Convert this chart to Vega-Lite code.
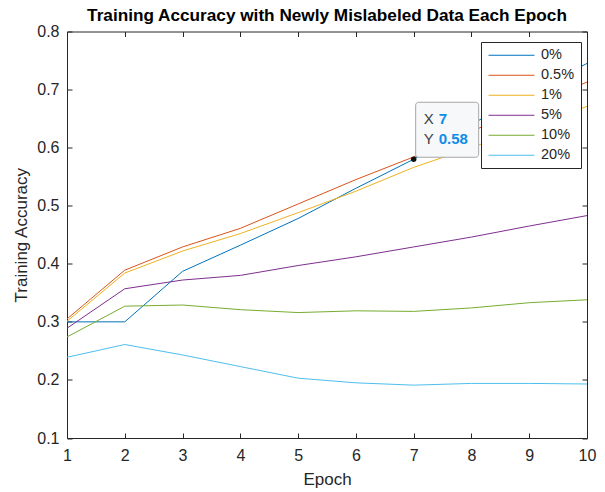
{
  "$schema": "https://vega.github.io/schema/vega-lite/v6.json",
  "width": 520,
  "height": 406.5,
  "autosize": "none",
  "padding": {"left": 67, "top": 31.5, "right": 18, "bottom": 54},
  "background": "white",
  "config": {
    "font": "Liberation Sans",
    "view": {"stroke": null}
  },
  "title": {
    "text": "Training Accuracy with Newly Mislabeled Data Each Epoch",
    "font": "Liberation Sans",
    "fontSize": 17.2,
    "fontWeight": "bold",
    "color": "black",
    "offset": -1,
    "anchor": "middle"
  },
  "datasets": {
    "acc": [
      {"series": "0%", "epoch": 1, "acc": 0.300}, {"series": "0%", "epoch": 2, "acc": 0.300}, {"series": "0%", "epoch": 3, "acc": 0.387}, {"series": "0%", "epoch": 4, "acc": 0.432}, {"series": "0%", "epoch": 5, "acc": 0.478}, {"series": "0%", "epoch": 6, "acc": 0.530}, {"series": "0%", "epoch": 7, "acc": 0.580}, {"series": "0%", "epoch": 8, "acc": 0.640}, {"series": "0%", "epoch": 9, "acc": 0.695}, {"series": "0%", "epoch": 10, "acc": 0.745},
      {"series": "0.5%", "epoch": 1, "acc": 0.305}, {"series": "0.5%", "epoch": 2, "acc": 0.389}, {"series": "0.5%", "epoch": 3, "acc": 0.429}, {"series": "0.5%", "epoch": 4, "acc": 0.461}, {"series": "0.5%", "epoch": 5, "acc": 0.503}, {"series": "0.5%", "epoch": 6, "acc": 0.545}, {"series": "0.5%", "epoch": 7, "acc": 0.584}, {"series": "0.5%", "epoch": 8, "acc": 0.628}, {"series": "0.5%", "epoch": 9, "acc": 0.670}, {"series": "0.5%", "epoch": 10, "acc": 0.713},
      {"series": "1%", "epoch": 1, "acc": 0.301}, {"series": "1%", "epoch": 2, "acc": 0.384}, {"series": "1%", "epoch": 3, "acc": 0.422}, {"series": "1%", "epoch": 4, "acc": 0.452}, {"series": "1%", "epoch": 5, "acc": 0.488}, {"series": "1%", "epoch": 6, "acc": 0.525}, {"series": "1%", "epoch": 7, "acc": 0.566}, {"series": "1%", "epoch": 8, "acc": 0.600}, {"series": "1%", "epoch": 9, "acc": 0.636}, {"series": "1%", "epoch": 10, "acc": 0.671},
      {"series": "5%", "epoch": 1, "acc": 0.289}, {"series": "5%", "epoch": 2, "acc": 0.357}, {"series": "5%", "epoch": 3, "acc": 0.372}, {"series": "5%", "epoch": 4, "acc": 0.380}, {"series": "5%", "epoch": 5, "acc": 0.397}, {"series": "5%", "epoch": 6, "acc": 0.412}, {"series": "5%", "epoch": 7, "acc": 0.429}, {"series": "5%", "epoch": 8, "acc": 0.446}, {"series": "5%", "epoch": 9, "acc": 0.465}, {"series": "5%", "epoch": 10, "acc": 0.483},
      {"series": "10%", "epoch": 1, "acc": 0.274}, {"series": "10%", "epoch": 2, "acc": 0.327}, {"series": "10%", "epoch": 3, "acc": 0.329}, {"series": "10%", "epoch": 4, "acc": 0.321}, {"series": "10%", "epoch": 5, "acc": 0.316}, {"series": "10%", "epoch": 6, "acc": 0.319}, {"series": "10%", "epoch": 7, "acc": 0.318}, {"series": "10%", "epoch": 8, "acc": 0.324}, {"series": "10%", "epoch": 9, "acc": 0.333}, {"series": "10%", "epoch": 10, "acc": 0.338},
      {"series": "20%", "epoch": 1, "acc": 0.239}, {"series": "20%", "epoch": 2, "acc": 0.261}, {"series": "20%", "epoch": 3, "acc": 0.243}, {"series": "20%", "epoch": 4, "acc": 0.223}, {"series": "20%", "epoch": 5, "acc": 0.203}, {"series": "20%", "epoch": 6, "acc": 0.195}, {"series": "20%", "epoch": 7, "acc": 0.191}, {"series": "20%", "epoch": 8, "acc": 0.194}, {"series": "20%", "epoch": 9, "acc": 0.194}, {"series": "20%", "epoch": 10, "acc": 0.193}
    ],
    "tip": [
      {"epoch": 7, "acc": 0.58, "xl": "X", "xv": "7", "yl": "Y", "yv": "0.58"}
    ]
  },
  "layer": [
    {
      "data": {"name": "acc"},
      "mark": {"type": "line", "strokeWidth": 1, "clip": true},
      "encoding": {
        "x": {
          "field": "epoch", "type": "quantitative",
          "scale": {"domain": [1, 10], "nice": false, "zero": false},
          "axis": {
            "orient": "bottom", "title": "Epoch",
            "values": [1, 2, 3, 4, 5, 6, 7, 8, 9, 10], "format": "d",
            "grid": false, "domainColor": "#262626", "domainWidth": 1,
            "tickColor": "#262626", "tickSize": -5, "tickWidth": 1,
            "labelFont": "Liberation Sans", "labelFontSize": 16, "labelColor": "#262626",
            "labelPadding": 14, "labelFlush": false,
            "titleFont": "Liberation Sans", "titleFontSize": 17, "titleFontWeight": "normal", "titleColor": "#262626",
            "titlePadding": 8
          }
        },
        "y": {
          "field": "acc", "type": "quantitative",
          "scale": {"domain": [0.1, 0.8], "nice": false, "zero": false},
          "axis": {
            "orient": "left", "title": "Training Accuracy",
            "values": [0.1, 0.2, 0.3, 0.4, 0.5, 0.6, 0.7, 0.8], "format": ".1f",
            "grid": false, "domainColor": "#262626", "domainWidth": 1,
            "tickColor": "#262626", "tickSize": -5, "tickWidth": 1,
            "labelFont": "Liberation Sans", "labelFontSize": 16, "labelColor": "#262626",
            "labelPadding": 13, "labelFlush": false,
            "titleFont": "Liberation Sans", "titleFontSize": 17, "titleFontWeight": "normal", "titleColor": "#262626",
            "titlePadding": 6
          }
        },
        "color": {
          "field": "series", "type": "nominal",
          "scale": {
            "domain": ["0%", "0.5%", "1%", "5%", "10%", "20%"],
            "range": ["#0072BD", "#D95319", "#EDB120", "#7E2F8E", "#77AC30", "#4DBEEE"]
          },
          "legend": {
            "title": null, "orient": "none", "legendX": 414, "legendY": 10.5,
            "direction": "vertical",
            "symbolType": "M-1,0H7", "symbolSize": 132, "symbolStrokeWidth": 1,
            "labelOffset": 39.5, "labelFont": "Liberation Sans", "labelFontSize": 14.5, "labelColor": "#262626",
            "rowPadding": 5, "padding": 6,
            "strokeColor": "#262626", "fillColor": "white", "cornerRadius": 0
          }
        }
      }
    },
    {
      "data": {"name": "acc"},
      "mark": {"type": "line", "opacity": 0},
      "encoding": {
        "x": {
          "field": "epoch", "type": "quantitative",
          "axis": {
            "orient": "top", "title": null, "labels": false,
            "values": [1, 2, 3, 4, 5, 6, 7, 8, 9, 10],
            "grid": false, "domainColor": "#262626", "domainWidth": 1,
            "tickColor": "#262626", "tickSize": -5, "tickWidth": 1
          }
        },
        "y": {
          "field": "acc", "type": "quantitative",
          "axis": {
            "orient": "right", "title": null, "labels": false,
            "values": [0.1, 0.2, 0.3, 0.4, 0.5, 0.6, 0.7, 0.8],
            "grid": false, "domainColor": "#262626", "domainWidth": 1,
            "tickColor": "#262626", "tickSize": -5, "tickWidth": 1
          }
        },
        "detail": {"field": "series"}
      }
    },
    {
      "data": {"name": "tip"},
      "mark": {"type": "rect", "fill": "#F7F8FA", "stroke": "#A6A6A6", "strokeWidth": 1, "cornerRadius": 3, "xOffset": 2, "x2Offset": 65, "yOffset": -57, "y2Offset": -2},
      "encoding": {
        "x": {"field": "epoch", "type": "quantitative", "axis": null},
        "x2": {"field": "epoch"},
        "y": {"field": "acc", "type": "quantitative", "axis": null},
        "y2": {"field": "acc"}
      }
    },
    {
      "data": {"name": "tip"},
      "mark": {"type": "point", "filled": true, "color": "#111111", "size": 30, "opacity": 1},
      "encoding": {
        "x": {"field": "epoch", "type": "quantitative", "axis": null},
        "y": {"field": "acc", "type": "quantitative", "axis": null}
      }
    },
    {
      "data": {"name": "tip"},
      "mark": {"type": "text", "align": "left", "baseline": "middle", "dx": 10, "dy": -40, "font": "Liberation Sans", "fontSize": 15, "color": "#404040"},
      "encoding": {
        "x": {"field": "epoch", "type": "quantitative", "axis": null},
        "y": {"field": "acc", "type": "quantitative", "axis": null},
        "text": {"field": "xl"}
      }
    },
    {
      "data": {"name": "tip"},
      "mark": {"type": "text", "align": "left", "baseline": "middle", "dx": 10, "dy": -20, "font": "Liberation Sans", "fontSize": 15, "color": "#404040"},
      "encoding": {
        "x": {"field": "epoch", "type": "quantitative", "axis": null},
        "y": {"field": "acc", "type": "quantitative", "axis": null},
        "text": {"field": "yl"}
      }
    },
    {
      "data": {"name": "tip"},
      "mark": {"type": "text", "align": "left", "baseline": "middle", "dx": 25, "dy": -40, "font": "Liberation Sans", "fontSize": 15, "fontWeight": "bold", "color": "#0F8CE8"},
      "encoding": {
        "x": {"field": "epoch", "type": "quantitative", "axis": null},
        "y": {"field": "acc", "type": "quantitative", "axis": null},
        "text": {"field": "xv"}
      }
    },
    {
      "data": {"name": "tip"},
      "mark": {"type": "text", "align": "left", "baseline": "middle", "dx": 25, "dy": -20, "font": "Liberation Sans", "fontSize": 15, "fontWeight": "bold", "color": "#0F8CE8"},
      "encoding": {
        "x": {"field": "epoch", "type": "quantitative", "axis": null},
        "y": {"field": "acc", "type": "quantitative", "axis": null},
        "text": {"field": "yv"}
      }
    }
  ],
  "resolve": {"axis": {"x": "independent", "y": "independent"}}
}
